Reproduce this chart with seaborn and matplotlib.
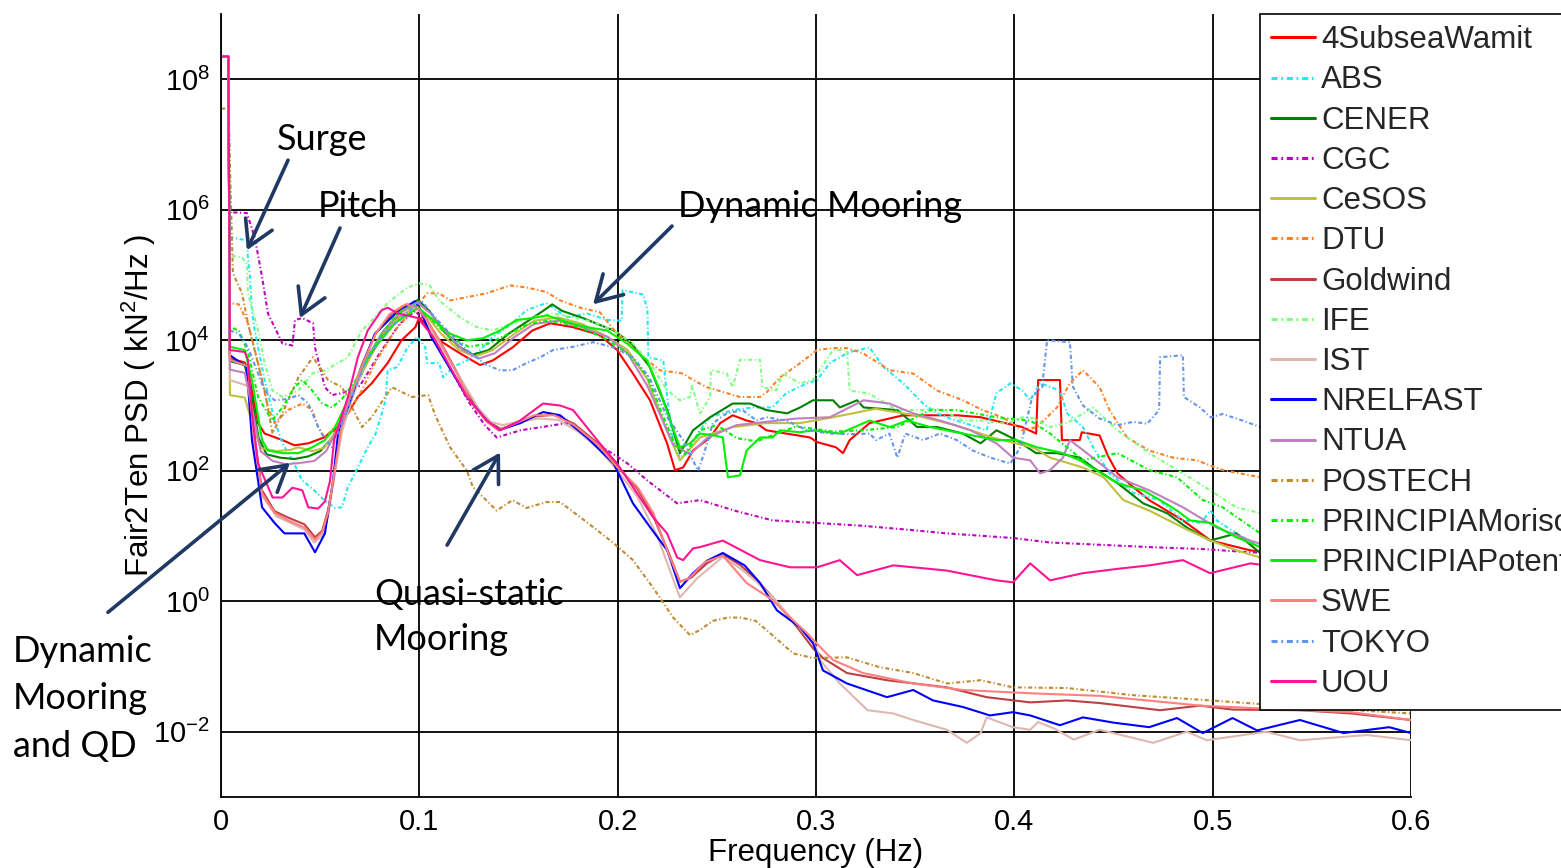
import numpy as np
import pandas as pd
import matplotlib
matplotlib.use("Agg")
import matplotlib.pyplot as plt
import seaborn as sns
from matplotlib.lines import Line2D
from matplotlib.ticker import FixedLocator, NullLocator

sns.set_theme(style="white")
plt.rcParams['font.family'] = ['Liberation Sans', 'DejaVu Sans']
plt.rcParams['mathtext.fontset'] = 'custom'
plt.rcParams['mathtext.rm'] = 'Liberation Sans'

# ---- Fair2Ten tension PSD, frequency [Hz] and log10(PSD [kN^2/Hz]) ----
subsea_f = [0, 0.0037, 0.0045, 0.012, 0.0146, 0.0187, 0.022, 0.031, 0.037, 0.044, 0.052, 0.059, 0.064, 0.069, 0.076, 0.084, 0.091, 0.098, 0.1, 0.11, 0.1205, 0.1306, 0.137, 0.147, 0.157, 0.166, 0.1775, 0.191, 0.1997, 0.2077, 0.2163, 0.2249, 0.2289, 0.233, 0.238, 0.2466, 0.2517, 0.258, 0.265, 0.27, 0.275, 0.285, 0.297, 0.3005, 0.31, 0.3136, 0.317, 0.327, 0.344, 0.357, 0.371, 0.383, 0.394, 0.404, 0.411, 0.412, 0.423, 0.424, 0.433, 0.434, 0.443, 0.447, 0.452, 0.46, 0.468, 0.485, 0.499, 0.519, 0.527]
subsea_lg = [8.35, 8.35, 3.72, 3.66, 3.39, 2.73, 2.57, 2.47, 2.39, 2.42, 2.51, 2.67, 2.88, 3.13, 3.34, 3.65, 4.0, 4.2, 4.35, 4.0, 3.8, 3.62, 3.69, 3.89, 4.15, 4.26, 4.2, 4.08, 3.85, 3.49, 3.08, 2.42, 2.01, 2.05, 2.31, 2.51, 2.73, 2.85, 2.77, 2.73, 2.62, 2.57, 2.51, 2.44, 2.36, 2.27, 2.47, 2.73, 2.85, 2.85, 2.85, 2.82, 2.74, 2.67, 2.57, 3.39, 3.39, 2.47, 2.47, 2.59, 2.54, 2.24, 1.96, 1.75, 1.55, 1.24, 0.93, 0.78, 0.75]

abs_f = [0, 0.0037, 0.0045, 0.013, 0.0136, 0.0146, 0.0156, 0.017, 0.022, 0.027, 0.031, 0.036, 0.041, 0.047, 0.052, 0.0575, 0.061, 0.064, 0.069, 0.074, 0.078, 0.083, 0.084, 0.089, 0.094, 0.099, 0.103, 0.104, 0.110, 0.112, 0.117, 0.124, 0.1306, 0.137, 0.147, 0.154, 0.164, 0.1745, 0.1845, 0.195, 0.202, 0.2025, 0.213, 0.215, 0.2155, 0.223, 0.225, 0.228, 0.2314, 0.2365, 0.2415, 0.2466, 0.258, 0.268, 0.278, 0.285, 0.2955, 0.3005, 0.307, 0.312, 0.317, 0.327, 0.334, 0.344, 0.354, 0.361, 0.3676, 0.378, 0.386, 0.391, 0.398, 0.404, 0.408, 0.413, 0.423, 0.4266, 0.4346, 0.4397, 0.448, 0.46, 0.473, 0.485, 0.494, 0.499, 0.502, 0.512, 0.524]
abs_lg = [8.35, 8.35, 5.58, 5.53, 5.27, 4.97, 4.46, 4.15, 3.39, 2.77, 2.42, 2.16, 1.85, 1.70, 1.55, 1.43, 1.44, 1.75, 2.05, 2.36, 2.57, 3.08, 3.54, 3.59, 3.89, 4.05, 3.89, 3.65, 3.65, 3.43, 3.59, 3.69, 3.85, 4.05, 4.26, 4.46, 4.57, 4.35, 4.41, 4.31, 4.3, 4.77, 4.7, 4.46, 3.74, 3.69, 3.13, 2.42, 2.2, 2.31, 2.62, 2.82, 2.93, 2.97, 2.97, 3.19, 3.34, 3.39, 3.65, 3.74, 3.82, 3.89, 3.59, 3.34, 3.03, 2.88, 2.8, 2.7, 2.62, 3.19, 3.34, 3.23, 3.08, 3.34, 3.23, 2.88, 2.67, 2.36, 1.96, 1.66, 1.55, 1.24, 1.2, 1.39, 1.24, 1.04, 0.83]

cener_f = [0, 0.0037, 0.0045, 0.012, 0.015, 0.019, 0.023, 0.03, 0.037, 0.044, 0.05, 0.056, 0.062, 0.068, 0.075, 0.083, 0.092, 0.0993, 0.105, 0.112, 0.12, 0.127, 0.135, 0.145, 0.155, 0.1624, 0.167, 0.172, 0.1825, 0.198, 0.207, 0.216, 0.225, 0.2314, 0.238, 0.2466, 0.258, 0.2667, 0.275, 0.2854, 0.292, 0.2985, 0.3086, 0.312, 0.3207, 0.324, 0.341, 0.351, 0.361, 0.374, 0.383, 0.391, 0.401, 0.411, 0.4215, 0.433, 0.4397, 0.452, 0.465, 0.477, 0.487, 0.4987, 0.512, 0.524]
cener_lg = [8.35, 8.35, 3.68, 3.62, 3.2, 2.5, 2.25, 2.2, 2.18, 2.22, 2.3, 2.5, 2.85, 3.3, 3.75, 4.15, 4.45, 4.62, 4.45, 4.15, 3.9, 3.78, 3.85, 4.1, 4.3, 4.45, 4.55, 4.45, 4.34, 4.15, 3.95, 3.6, 2.93, 2.27, 2.62, 2.82, 3.03, 3.03, 2.93, 2.88, 2.97, 3.08, 3.08, 2.97, 3.08, 2.97, 2.93, 2.67, 2.67, 2.57, 2.42, 2.62, 2.47, 2.27, 2.27, 2.2, 2.05, 1.81, 1.5, 1.35, 1.13, 0.93, 1.04, 0.74]

cgc_f = [0, 0.0037, 0.0045, 0.006, 0.013, 0.017, 0.0207, 0.0237, 0.031, 0.036, 0.0373, 0.041, 0.0464, 0.0474, 0.0524, 0.056, 0.061, 0.07, 0.08, 0.09, 0.098, 0.105, 0.115, 0.125, 0.133, 0.139, 0.151, 0.162, 0.174, 0.1845, 0.195, 0.205, 0.215, 0.23, 0.2415, 0.26, 0.278, 0.3, 0.322, 0.345, 0.366, 0.399, 0.418, 0.44, 0.468, 0.495, 0.519, 0.527]
cgc_lg = [8.35, 8.35, 5.96, 5.96, 5.95, 5.58, 4.97, 4.41, 3.95, 3.92, 4.31, 4.34, 4.26, 3.89, 3.28, 3.16, 3.19, 3.3, 3.8, 4.25, 4.45, 4.2, 3.6, 3.05, 2.7, 2.51, 2.62, 2.67, 2.73, 2.51, 2.31, 2.11, 1.85, 1.5, 1.55, 1.38, 1.24, 1.2, 1.16, 1.1, 1.04, 0.97, 0.9, 0.87, 0.83, 0.8, 0.75, 0.74]

cesos_f = [0, 0.0037, 0.0045, 0.012, 0.016, 0.02, 0.028, 0.035, 0.039, 0.046, 0.052, 0.058, 0.064, 0.071, 0.079, 0.088, 0.097, 0.103, 0.111, 0.12, 0.128, 0.137, 0.148, 0.158, 0.17, 0.182, 0.195, 0.205, 0.215, 0.225, 0.2314, 0.2415, 0.258, 0.275, 0.292, 0.3086, 0.33, 0.35, 0.37, 0.39, 0.41, 0.418, 0.4346, 0.445, 0.455, 0.468, 0.485, 0.499, 0.512, 0.524]
cesos_lg = [8.35, 8.35, 3.16, 3.12, 2.7, 2.35, 2.3, 2.32, 2.36, 2.3, 2.35, 2.6, 3.0, 3.5, 3.95, 4.3, 4.5, 4.4, 4.1, 3.85, 3.75, 3.85, 4.1, 4.3, 4.35, 4.25, 4.05, 3.85, 3.4, 2.6, 2.16, 2.51, 2.67, 2.73, 2.73, 2.82, 2.95, 2.85, 2.7, 2.5, 2.35, 2.2, 2.05, 1.9, 1.55, 1.39, 1.13, 0.93, 0.78, 0.67]

dtu_f = [0, 0.0037, 0.0045, 0.009, 0.0136, 0.0187, 0.0237, 0.027, 0.0338, 0.041, 0.046, 0.049, 0.052, 0.0575, 0.064, 0.071, 0.0776, 0.0877, 0.0978, 0.104, 0.11, 0.1155, 0.124, 0.134, 0.1457, 0.154, 0.164, 0.171, 0.181, 0.191, 0.1997, 0.2077, 0.213, 0.2213, 0.233, 0.238, 0.245, 0.255, 0.2617, 0.2718, 0.275, 0.2818, 0.292, 0.3005, 0.3086, 0.3156, 0.3237, 0.3373, 0.349, 0.361, 0.374, 0.384, 0.394, 0.404, 0.4114, 0.4215, 0.428, 0.4346, 0.443, 0.448, 0.4568, 0.468, 0.48, 0.492, 0.505, 0.524]
dtu_lg = [8.35, 8.35, 4.57, 4.55, 4.26, 3.65, 2.97, 2.73, 2.93, 3.03, 2.93, 2.67, 2.51, 2.67, 2.88, 3.23, 3.65, 4.15, 4.5, 4.72, 4.72, 4.61, 4.66, 4.72, 4.84, 4.81, 4.74, 4.61, 4.5, 4.43, 4.1, 3.89, 3.74, 3.54, 3.49, 3.39, 3.28, 3.19, 3.13, 3.13, 3.2, 3.43, 3.65, 3.85, 3.88, 3.88, 3.8, 3.54, 3.49, 3.23, 3.08, 2.93, 2.82, 2.62, 2.67, 2.97, 3.34, 3.54, 3.28, 2.93, 2.51, 2.31, 2.2, 2.16, 2.01, 1.9]

goldwind_f = [0, 0.0037, 0.0045, 0.0136, 0.016, 0.0207, 0.027, 0.034, 0.042, 0.0474, 0.051, 0.054, 0.057, 0.0605, 0.065, 0.071, 0.078, 0.086, 0.094, 0.1, 0.105, 0.112, 0.12, 0.128, 0.135, 0.141, 0.149, 0.158, 0.168, 0.178, 0.19, 0.2, 0.21, 0.218, 0.226, 0.2314, 0.237, 0.245, 0.253, 0.262, 0.27, 0.28, 0.29, 0.2985, 0.3035, 0.3156, 0.3358, 0.366, 0.386, 0.408, 0.4266, 0.443, 0.4735, 0.4936, 0.51, 0.544, 0.57, 0.6]
goldwind_lg = [8.35, 8.35, 3.72, 3.62, 2.7, 1.7, 1.38, 1.28, 1.18, 0.98, 1.08, 1.4, 1.9, 2.65, 3.1, 3.62, 4.1, 4.4, 4.55, 4.5, 4.25, 3.9, 3.45, 3.0, 2.75, 2.64, 2.72, 2.83, 2.86, 2.72, 2.42, 2.07, 1.72, 1.3, 0.72, 0.3, 0.36, 0.58, 0.72, 0.55, 0.33, 0.0, -0.38, -0.72, -0.87, -1.1, -1.21, -1.32, -1.47, -1.55, -1.52, -1.56, -1.67, -1.6, -1.66, -1.67, -1.72, -1.82]

ife_f = [0, 0.0037, 0.0045, 0.0106, 0.013, 0.0136, 0.0187, 0.022, 0.026, 0.031, 0.039, 0.046, 0.0524, 0.059, 0.064, 0.071, 0.0776, 0.084, 0.094, 0.1, 0.105, 0.11, 0.1205, 0.129, 0.137, 0.147, 0.157, 0.1674, 0.1775, 0.188, 0.198, 0.2077, 0.216, 0.225, 0.2314, 0.2365, 0.2375, 0.2415, 0.2466, 0.247, 0.255, 0.258, 0.2617, 0.2718, 0.273, 0.28, 0.283, 0.292, 0.2985, 0.3086, 0.3156, 0.317, 0.327, 0.341, 0.3525, 0.3625, 0.374, 0.384, 0.396, 0.404, 0.41, 0.418, 0.4266, 0.4397, 0.452, 0.468, 0.485, 0.4987, 0.512, 0.524]
ife_lg = [8.35, 8.35, 5.3, 5.27, 5.17, 4.72, 4.15, 3.65, 3.23, 3.13, 3.23, 3.49, 3.54, 3.65, 3.74, 4.15, 4.35, 4.57, 4.81, 4.87, 4.85, 4.61, 4.35, 4.2, 4.15, 4.26, 4.35, 4.41, 4.35, 4.28, 4.15, 3.95, 3.66, 3.23, 3.08, 3.13, 3.3, 2.88, 3.13, 3.54, 3.49, 3.28, 3.7, 3.7, 3.28, 3.23, 3.49, 3.34, 3.39, 3.85, 3.85, 3.23, 3.18, 2.93, 2.93, 2.95, 2.77, 2.77, 2.72, 2.82, 2.8, 2.67, 2.73, 2.97, 2.62, 2.27, 1.96, 1.7, 1.44, 1.35]

ist_f = [0, 0.0037, 0.0045, 0.0136, 0.016, 0.021, 0.028, 0.035, 0.042, 0.047, 0.051, 0.054, 0.057, 0.061, 0.066, 0.072, 0.08, 0.088, 0.096, 0.1, 0.11, 0.12, 0.13, 0.136, 0.142, 0.15, 0.16, 0.17, 0.18, 0.19, 0.2, 0.21, 0.22, 0.226, 0.2314, 0.24, 0.253, 0.262, 0.27, 0.28, 0.29, 0.3, 0.302, 0.312, 0.326, 0.339, 0.349, 0.366, 0.376, 0.383, 0.386, 0.3993, 0.408, 0.412, 0.42, 0.43, 0.443, 0.47, 0.487, 0.497, 0.527, 0.544, 0.578, 0.6]
ist_lg = [8.35, 8.35, 3.39, 3.3, 2.5, 1.6, 1.3, 1.2, 1.1, 0.9, 1.0, 1.3, 1.9, 2.6, 3.1, 3.6, 4.05, 4.35, 4.5, 4.45, 3.95, 3.45, 2.95, 2.75, 2.7, 2.75, 2.8, 2.78, 2.6, 2.35, 2.0, 1.6, 1.0, 0.5, 0.06, 0.35, 0.68, 0.5, 0.3, 0.0, -0.35, -0.7, -0.9, -1.26, -1.67, -1.72, -1.82, -1.97, -2.17, -2.02, -1.78, -1.93, -1.97, -1.85, -1.95, -2.12, -1.97, -2.17, -2.0, -2.13, -2.0, -2.13, -2.05, -2.13]

nrel_f = [0, 0.0037, 0.0045, 0.013, 0.0156, 0.0207, 0.027, 0.032, 0.042, 0.0474, 0.0524, 0.0565, 0.059, 0.064, 0.071, 0.0776, 0.0877, 0.0978, 0.1, 0.106, 0.115, 0.124, 0.134, 0.14, 0.151, 0.1624, 0.171, 0.1845, 0.198, 0.2077, 0.216, 0.225, 0.2314, 0.238, 0.245, 0.253, 0.264, 0.2718, 0.2803, 0.292, 0.2985, 0.3035, 0.3156, 0.3358, 0.349, 0.359, 0.374, 0.3877, 0.3993, 0.408, 0.423, 0.4346, 0.45, 0.468, 0.482, 0.495, 0.51, 0.5224, 0.544, 0.566, 0.589, 0.6]
nrel_lg = [8.35, 8.35, 3.77, 3.59, 2.47, 1.44, 1.2, 1.04, 1.04, 0.75, 1.04, 1.85, 2.57, 2.97, 3.6, 4.1, 4.4, 4.6, 4.5, 4.05, 3.59, 3.13, 2.77, 2.62, 2.73, 2.9, 2.85, 2.51, 2.11, 1.5, 1.15, 0.78, 0.2, 0.43, 0.62, 0.74, 0.55, 0.28, -0.14, -0.4, -0.64, -1.06, -1.26, -1.47, -1.36, -1.52, -1.62, -1.75, -1.7, -1.75, -1.9, -1.78, -1.86, -1.93, -1.79, -2.02, -1.79, -1.98, -1.82, -2.02, -1.93, -2.02]

ntua_f = [0, 0.0037, 0.0045, 0.012, 0.016, 0.02, 0.026, 0.033, 0.04, 0.047, 0.053, 0.059, 0.066, 0.073, 0.082, 0.091, 0.099, 0.106, 0.114, 0.122, 0.13, 0.138, 0.148, 0.158, 0.17, 0.182, 0.195, 0.205, 0.215, 0.228, 0.2365, 0.245, 0.26, 0.275, 0.29, 0.307, 0.324, 0.337, 0.349, 0.3625, 0.378, 0.391, 0.3993, 0.408, 0.413, 0.418, 0.4245, 0.428, 0.4366, 0.452, 0.468, 0.485, 0.502, 0.519, 0.526]
ntua_lg = [8.35, 8.35, 3.55, 3.5, 2.9, 2.3, 2.15, 2.1, 2.12, 2.15, 2.3, 2.65, 3.2, 3.7, 4.15, 4.45, 4.58, 4.4, 4.1, 3.85, 3.72, 3.8, 4.05, 4.25, 4.3, 4.2, 4.05, 3.8, 3.3, 2.4, 2.25, 2.5, 2.7, 2.75, 2.8, 2.82, 3.08, 3.03, 2.88, 2.77, 2.62, 2.42, 2.2, 2.16, 1.96, 2.01, 2.2, 2.47, 2.27, 1.9, 1.7, 1.44, 1.13, 0.93, 0.86]

postech_f = [0, 0.0037, 0.006, 0.0106, 0.0136, 0.022, 0.026, 0.0323, 0.039, 0.0464, 0.054, 0.061, 0.0676, 0.0711, 0.076, 0.0827, 0.0862, 0.0963, 0.1044, 0.108, 0.1155, 0.124, 0.127, 0.139, 0.147, 0.154, 0.164, 0.171, 0.1845, 0.198, 0.2077, 0.2178, 0.228, 0.2365, 0.2415, 0.248, 0.2556, 0.262, 0.2695, 0.275, 0.2885, 0.2985, 0.3156, 0.332, 0.349, 0.366, 0.383, 0.3993, 0.4266, 0.46, 0.499, 0.544, 0.6]
postech_lg = [7.55, 7.55, 5.03, 4.72, 4.26, 3.23, 2.57, 2.97, 3.43, 3.74, 3.39, 3.28, 2.88, 2.67, 2.82, 3.13, 3.28, 3.13, 3.16, 2.85, 2.36, 2.0, 1.75, 1.39, 1.55, 1.43, 1.52, 1.52, 1.21, 0.89, 0.63, 0.21, -0.25, -0.52, -0.44, -0.3, -0.25, -0.25, -0.3, -0.44, -0.8, -0.87, -0.86, -1.01, -1.1, -1.26, -1.21, -1.32, -1.33, -1.44, -1.52, -1.62, -1.72]

pmor_f = [0, 0.0037, 0.0045, 0.009, 0.0136, 0.0187, 0.0257, 0.031, 0.037, 0.041, 0.046, 0.051, 0.056, 0.061, 0.068, 0.0746, 0.081, 0.089, 0.0978, 0.105, 0.115, 0.125, 0.135, 0.145, 0.155, 0.165, 0.175, 0.185, 0.195, 0.205, 0.215, 0.222, 0.229, 0.234, 0.2415, 0.25, 0.26, 0.27, 0.29, 0.3086, 0.324, 0.341, 0.3575, 0.371, 0.391, 0.408, 0.418, 0.4346, 0.452, 0.468, 0.482, 0.495, 0.505, 0.524]
pmor_lg = [8.35, 8.35, 4.2, 4.15, 3.82, 3.13, 2.77, 2.97, 3.28, 3.39, 3.23, 3.03, 2.97, 3.1, 3.39, 3.74, 4.1, 4.41, 4.55, 4.35, 4.05, 3.9, 3.95, 4.1, 4.25, 4.3, 4.25, 4.15, 4.0, 3.8, 3.45, 2.9, 2.4, 2.25, 2.62, 2.7, 2.5, 2.45, 2.68, 2.6, 2.62, 2.67, 2.93, 2.93, 2.82, 2.77, 2.57, 2.16, 2.27, 2.01, 1.9, 1.55, 1.44, 1.04]

ppot_f = [0, 0.0037, 0.0045, 0.012, 0.0156, 0.0207, 0.0237, 0.031, 0.039, 0.046, 0.0524, 0.0575, 0.064, 0.071, 0.0776, 0.0877, 0.0993, 0.107, 0.1155, 0.124, 0.132, 0.1407, 0.149, 0.157, 0.1644, 0.1745, 0.1845, 0.1946, 0.2047, 0.2148, 0.2213, 0.2264, 0.2314, 0.2365, 0.2415, 0.249, 0.253, 0.2556, 0.2617, 0.265, 0.2718, 0.278, 0.2818, 0.292, 0.2985, 0.312, 0.327, 0.3373, 0.346, 0.3575, 0.374, 0.391, 0.401, 0.4114, 0.4245, 0.433, 0.452, 0.465, 0.4735, 0.482, 0.4886, 0.4987, 0.512, 0.524]
ppot_lg = [8.35, 8.35, 3.9, 3.85, 3.39, 2.47, 2.31, 2.27, 2.27, 2.36, 2.47, 2.67, 3.08, 3.59, 3.89, 4.26, 4.5, 4.31, 4.1, 4.0, 4.03, 4.15, 4.31, 4.34, 4.38, 4.28, 4.2, 4.15, 3.95, 3.69, 3.23, 2.77, 2.36, 2.42, 2.57, 2.54, 2.51, 1.9, 1.93, 2.31, 2.51, 2.51, 2.62, 2.59, 2.62, 2.57, 2.77, 2.67, 2.77, 2.67, 2.57, 2.47, 2.47, 2.36, 2.27, 2.16, 1.81, 1.7, 1.55, 1.39, 1.24, 1.2, 0.98, 0.83]

swe_f = [0, 0.0037, 0.0045, 0.0136, 0.0162, 0.0207, 0.0272, 0.0338, 0.042, 0.0474, 0.051, 0.0539, 0.0565, 0.0605, 0.0645, 0.071, 0.078, 0.085, 0.093, 0.099, 0.104, 0.11, 0.118, 0.126, 0.134, 0.14, 0.148, 0.158, 0.168, 0.178, 0.19, 0.2, 0.21, 0.218, 0.226, 0.2314, 0.236, 0.244, 0.253, 0.265, 0.278, 0.287, 0.2955, 0.302, 0.3086, 0.3237, 0.349, 0.374, 0.408, 0.443, 0.494, 0.544, 0.57, 0.6]
swe_lg = [8.35, 8.35, 3.7, 3.6, 2.62, 1.65, 1.35, 1.24, 1.13, 0.94, 1.06, 1.35, 1.85, 2.62, 3.08, 3.6, 4.1, 4.4, 4.55, 4.5, 4.3, 4.0, 3.55, 3.05, 2.75, 2.62, 2.72, 2.85, 2.85, 2.7, 2.4, 2.05, 1.75, 1.35, 0.7, 0.3, 0.35, 0.6, 0.7, 0.28, 0.02, -0.25, -0.49, -0.7, -0.9, -1.1, -1.26, -1.36, -1.41, -1.45, -1.6, -1.67, -1.7, -1.82]

tokyo_f = [0, 0.0037, 0.0045, 0.009, 0.0136, 0.0187, 0.022, 0.027, 0.0338, 0.039, 0.044, 0.049, 0.052, 0.056, 0.061, 0.066, 0.0726, 0.081, 0.091, 0.101, 0.107, 0.1155, 0.124, 0.134, 0.1407, 0.147, 0.154, 0.161, 0.1674, 0.1775, 0.1876, 0.198, 0.2077, 0.216, 0.225, 0.233, 0.2405, 0.2435, 0.248, 0.255, 0.263, 0.27, 0.275, 0.285, 0.2955, 0.307, 0.317, 0.327, 0.3303, 0.337, 0.341, 0.345, 0.354, 0.3625, 0.371, 0.379, 0.388, 0.398, 0.403, 0.409, 0.414, 0.4165, 0.428, 0.4295, 0.4346, 0.443, 0.452, 0.46, 0.467, 0.473, 0.4735, 0.485, 0.4855, 0.4936, 0.499, 0.505, 0.515, 0.524]
tokyo_lg = [8.35, 8.35, 4.15, 4.1, 3.89, 3.49, 3.23, 3.08, 3.1, 3.16, 3.03, 2.67, 2.51, 2.36, 2.73, 3.13, 3.65, 4.05, 4.35, 4.61, 4.38, 4.1, 3.85, 3.62, 3.54, 3.54, 3.65, 3.74, 3.85, 3.9, 3.97, 3.89, 3.74, 3.43, 2.82, 2.47, 2.0, 2.26, 2.73, 2.88, 2.93, 2.77, 2.82, 2.77, 2.62, 2.57, 2.56, 2.57, 2.47, 2.57, 2.2, 2.57, 2.47, 2.57, 2.47, 2.31, 2.2, 2.11, 2.36, 3.13, 3.28, 4.0, 3.97, 3.29, 3.0, 2.8, 2.7, 2.75, 2.72, 2.93, 3.74, 3.77, 3.13, 2.97, 2.82, 2.87, 2.77, 2.67]

uou_f = [0, 0.0037, 0.0045, 0.012, 0.0136, 0.0156, 0.0187, 0.026, 0.031, 0.036, 0.041, 0.044, 0.049, 0.0524, 0.055, 0.057, 0.064, 0.069, 0.074, 0.081, 0.084, 0.0893, 0.0993, 0.107, 0.1155, 0.124, 0.134, 0.1407, 0.1508, 0.1624, 0.171, 0.1775, 0.191, 0.1997, 0.2077, 0.2178, 0.2249, 0.23, 0.233, 0.238, 0.2415, 0.253, 0.2718, 0.287, 0.3005, 0.312, 0.3207, 0.339, 0.366, 0.391, 0.3993, 0.408, 0.418, 0.4346, 0.453, 0.468, 0.485, 0.4987, 0.519, 0.527]
uou_lg = [8.35, 8.35, 3.85, 3.82, 3.7, 2.88, 2.11, 1.59, 1.59, 1.74, 1.70, 1.44, 1.42, 1.53, 1.85, 2.47, 3.13, 3.74, 4.15, 4.46, 4.5, 4.41, 4.34, 4.05, 3.59, 3.13, 2.77, 2.62, 2.77, 3.03, 3.0, 2.93, 2.42, 2.11, 1.75, 1.29, 1.04, 0.67, 0.63, 0.81, 0.83, 0.93, 0.63, 0.52, 0.52, 0.63, 0.4, 0.55, 0.47, 0.32, 0.29, 0.58, 0.32, 0.43, 0.5, 0.55, 0.63, 0.43, 0.58, 0.55]

models = ["4SubseaWamit", "ABS", "CENER", "CGC", "CeSOS", "DTU", "Goldwind", "IFE",
          "IST", "NRELFAST", "NTUA", "POSTECH", "PRINCIPIAMorison",
          "PRINCIPIAPotential", "SWE", "TOKYO", "UOU"]
series = [(subsea_f, subsea_lg), (abs_f, abs_lg), (cener_f, cener_lg), (cgc_f, cgc_lg),
          (cesos_f, cesos_lg), (dtu_f, dtu_lg), (goldwind_f, goldwind_lg), (ife_f, ife_lg),
          (ist_f, ist_lg), (nrel_f, nrel_lg), (ntua_f, ntua_lg), (postech_f, postech_lg),
          (pmor_f, pmor_lg), (ppot_f, ppot_lg), (swe_f, swe_lg), (tokyo_f, tokyo_lg),
          (uou_f, uou_lg)]
colors = ["#FF0000", "#22E8F2", "#008000", "#C000C0", "#BFBF40", "#FF8020", "#BF4040",
          "#80FF80", "#DDB8B0", "#0000FF", "#C080C0", "#C08A30", "#00F000",
          "#00F000", "#FF8080", "#6495ED", "#FF1493"]
dotted = {"ABS", "CGC", "DTU", "IFE", "POSTECH", "PRINCIPIAMorison", "TOKYO"}

frames = []
for name, (f, lg) in zip(models, series):
    frames.append(pd.DataFrame({"freq": f, "psd": 10.0 ** np.asarray(lg), "model": name}))
df = pd.concat(frames, ignore_index=True)

dash_dot = (2.0, 1.2, 0.6, 1.2)
dashes = {m: (dash_dot if m in dotted else "") for m in models}
palette = dict(zip(models, colors))

fig = plt.figure(figsize=(15.61, 8.68), dpi=100)
ax = fig.add_axes([221 / 1561, 1 - 797 / 868, 1190 / 1561, 783 / 868])

sns.lineplot(data=df, x="freq", y="psd", hue="model", style="model",
             hue_order=models, style_order=models, palette=palette, dashes=dashes,
             estimator=None, sort=False, linewidth=1.5, legend=False, ax=ax)

ax.set_yscale("log")
ax.set_xlim(0, 0.6)
ax.set_ylim(1e-3, 1e9)
ax.xaxis.set_major_locator(FixedLocator([0, 0.1, 0.2, 0.3, 0.4, 0.5, 0.6]))
ax.set_xticklabels(["0", "0.1", "0.2", "0.3", "0.4", "0.5", "0.6"])
yt = [1e-2, 1e0, 1e2, 1e4, 1e6, 1e8]
ax.yaxis.set_major_locator(FixedLocator(yt))
ax.yaxis.set_minor_locator(NullLocator())
ax.set_yticklabels([r"$\mathregular{10^{%d}}$" % e for e in (-2, 0, 2, 4, 6, 8)])
ax.tick_params(axis="both", direction="in", length=5, width=1, colors="black",
               labelsize=21, pad=8)
ax.grid(True, which="major", color="black", linewidth=1.3, linestyle="-")
for side in ("top", "right"):
    ax.spines[side].set_visible(False)
for side in ("left", "bottom"):
    ax.spines[side].set_color("black")
    ax.spines[side].set_linewidth(1.3)

ax.set_xlabel("Frequency (Hz)", fontsize=22.5, color="black")
ax.set_ylabel(r"Fair2Ten PSD ( kN$^\mathregular{2}$/Hz )", fontsize=22.5, color="black")
ax.xaxis.set_label_coords(0.5, -0.053)
ax.yaxis.set_label_coords(-0.053, 0.5)

handles = [Line2D([], [], color=c, lw=2.2,
                  linestyle=(0, dash_dot) if m in dotted else "-")
           for m, c in zip(models, colors)]
leg = ax.legend(handles, models, loc="upper left", bbox_to_anchor=(0.873, 1.0),
                borderaxespad=0, fontsize=22.5, frameon=True, fancybox=False,
                framealpha=1, edgecolor="black", borderpad=0.36, labelspacing=0.327,
                handlelength=1.4, handletextpad=0.2)
leg.get_frame().set_linewidth(1.2)
leg.set_zorder(10)

# annotations
navy = "#1F3864"
afont = dict(family=["Lato", "DejaVu Sans"], fontsize=26, color="black")
arrow = dict(arrowstyle="->,head_length=0.6,head_width=0.35", color=navy, lw=2.6,
             shrinkA=0, shrinkB=0, mutation_scale=30)

def fpx(x, y):
    return x / 1561, 1 - y / 868

notes = [("Surge", 277, 150), ("Pitch", 318, 217), ("Dynamic Mooring", 678, 217),
         ("Quasi-static", 374, 605), ("Mooring", 374, 650),
         ("Dynamic", 13, 662), ("Mooring", 13, 709), ("and QD", 13, 757)]
for txt, px, py in notes:
    fig.text(*fpx(px, py), txt, ha="left", va="baseline", zorder=12, **afont)

arrows = [((0.0131, 10 ** 5.38), (0.0338, 10 ** 6.76)),
          ((0.0398, 10 ** 4.34), (0.060, 10 ** 5.72)),
          ((0.1876, 10 ** 4.55), (0.2274, 10 ** 5.75)),
          ((0.1407, 10 ** 2.28), (0.114, 10 ** 0.86)),
          ((0.0348, 10 ** 2.12), (-0.057, 10 ** -0.17))]
for tip, tail in arrows:
    ax.annotate("", xy=tip, xytext=tail, xycoords="data", textcoords="data",
                arrowprops=arrow, annotation_clip=False, zorder=11)

fig.savefig("out.png", dpi=100)
